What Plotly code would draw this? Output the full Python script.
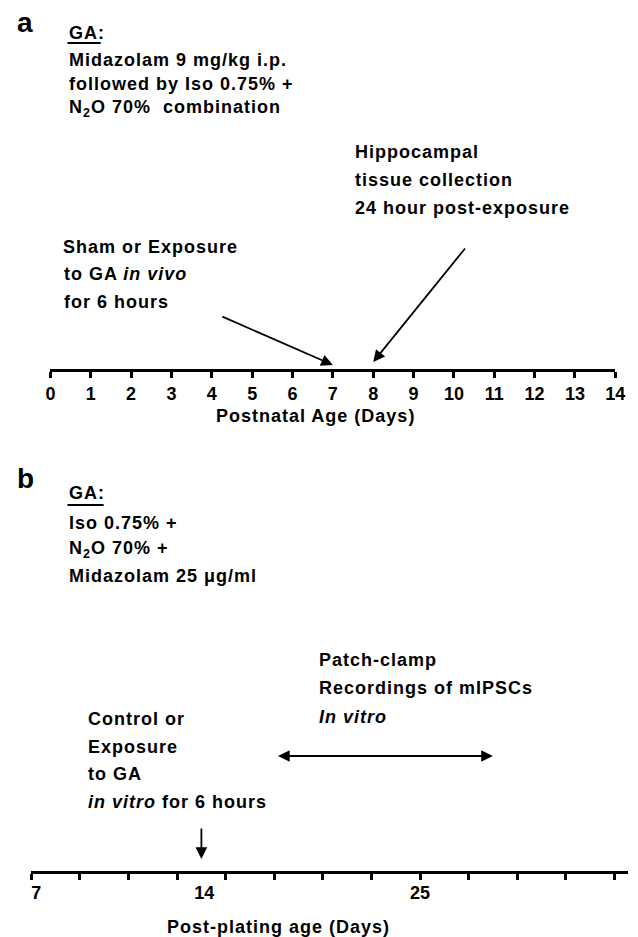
import plotly.graph_objects as go

W, H = 638, 937
FONT = "Liberation Sans"

# ---- data ----
panel_a_days = list(range(0, 15))
panel_a_ticklabels = [str(d) for d in panel_a_days]
panel_a_exposure_day = 7
panel_a_collection_day = 8

panel_b_tick_positions = list(range(0, 13))          # evenly spaced minor ticks (schematic)
panel_b_label_positions = [0.1, 3.56, 8.0]
panel_b_labels = ["7", "14", "25"]
panel_b_exposure_pos = 3.5
panel_b_recording_span = [5.15, 9.5]

B_UNIT = 49.75  # px per schematic tick in panel b


def px(x):
    return x / W


def sp(s, ls=1):
    return '<span style="letter-spacing:%gpx">%s</span>' % (ls, s)


fig = go.Figure()
fig.add_trace(go.Scatter(x=[None], y=[None], xaxis="x", yaxis="y", showlegend=False))
fig.add_trace(go.Scatter(x=[None], y=[None], xaxis="x2", yaxis="y", showlegend=False))
fig.add_trace(go.Scatter(x=[None], y=[None], xaxis="x3", yaxis="y", showlegend=False))

axis_common = dict(showline=True, linewidth=3, linecolor="black", ticks="outside",
                   ticklen=6, tickwidth=3, tickcolor="black", showgrid=False,
                   zeroline=False, anchor="free", fixedrange=True)
tickfont = dict(family=FONT, size=18, color="black", weight="bold")

fig.update_layout(
    width=W, height=H,
    margin=dict(l=0, r=0, t=0, b=0),
    paper_bgcolor="white", plot_bgcolor="rgba(0,0,0,0)",
    showlegend=False,
    yaxis=dict(range=[H, 0], domain=[0, 1], visible=False, fixedrange=True),
    xaxis=dict(domain=[px(46.5), px(625)], range=[0, 14], position=1 - 370 / H,
               tickvals=panel_a_days, ticktext=panel_a_ticklabels,
               tickfont=tickfont, **axis_common),
    xaxis2=dict(domain=[px(27), 1], range=[0, (W - 27) / B_UNIT], position=1 - 872 / H,
                tickvals=panel_b_tick_positions, showticklabels=False,
                **axis_common),
    xaxis3=dict(overlaying="x2", domain=[px(27), 1], range=[0, (W - 27) / B_UNIT],
                anchor="free", position=1 - 880 / H, showline=False, ticks="",
                showgrid=False, zeroline=False, fixedrange=True,
                tickvals=panel_b_label_positions, ticktext=panel_b_labels,
                tickfont=tickfont),
)

ann = []


def text(x, y, s, size=18, xanchor="left", ls=1):
    ann.append(dict(xref="paper", yref="y", x=px(x), y=y, text=sp(s, ls) if ls else s,
                    showarrow=False, xanchor=xanchor, yanchor="middle",
                    font=dict(family=FONT, size=size, color="black", weight="bold")))


# panel labels
text(10, 22, "a", size=28, ls=0)
text(10, 478, "b", size=28, ls=0)

# panel a texts
text(63, 33, "GA:")
text(63, 60, "Midazolam 9 mg/kg i.p.")
text(63, 84, "followed by Iso 0.75% +")
text(63, 108, "N<sub>2</sub>O 70%  combination")
text(356, 152, "Hippocampal")
text(356, 180, "tissue collection")
text(356, 208, "24 hour post-exposure")
text(57, 247, "Sham or Exposure")
text(58, 274, "to GA <i>in vivo</i>")
text(58, 302, "for 6 hours")
text(318, 416, "Postnatal Age (Days)", xanchor="center")

# panel b texts
text(63, 493, "GA:")
text(63, 523, "Iso 0.75% +")
text(63, 549, "N<sub>2</sub>O 70% +")
text(63, 576, "Midazolam 25 \u03bcg/ml")
text(320, 660, "Patch-clamp")
text(320, 688, "Recordings of mIPSCs")
text(320, 717, "<i>In vitro</i>")
text(83, 719, "Control or")
text(83, 747, "Exposure")
text(83, 774, "to GA")
text(83, 802, "<i>in vitro</i> for 6 hours")
text(280, 927, "Post-plating age (Days)", xanchor="center")

# arrows
arrow_style = dict(showarrow=True, arrowhead=2, arrowsize=1.3, arrowwidth=1.8,
                   arrowcolor="black", text="", axref="pixel", ayref="pixel")
ann.append(dict(xref="x", yref="y", x=panel_a_exposure_day, y=365, ax=-112, ay=-49, **arrow_style))
ann.append(dict(xref="x", yref="y", x=panel_a_collection_day, y=362, ax=93, ay=-115, **arrow_style))
ann.append(dict(xref="x2", yref="y", x=panel_b_exposure_pos, y=859, ax=0, ay=-32, **arrow_style))
ann.append(dict(xref="x2", yref="y", x=panel_b_recording_span[1], y=756,
                ax=-(panel_b_recording_span[1] - panel_b_recording_span[0]) * B_UNIT, ay=0,
                arrowside="end+start", **arrow_style))

fig.update_layout(annotations=ann)

# underline for "GA:"
fig.add_shape(type="line", xref="paper", yref="y", x0=px(64), x1=px(98), y0=43, y1=43,
              line=dict(color="black", width=2))
fig.add_shape(type="line", xref="paper", yref="y", x0=px(64), x1=px(101), y0=505, y1=505,
              line=dict(color="black", width=2))

fig.write_html("out.html", config={"displayModeBar": False},
               post_script="document.body.style.margin='0';")
